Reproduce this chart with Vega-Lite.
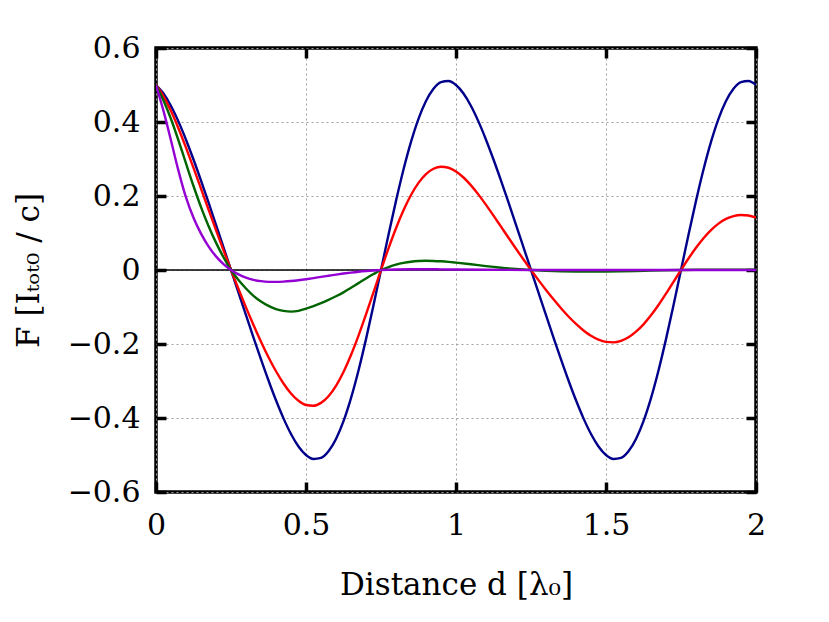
{
  "$schema": "https://vega.github.io/schema/vega-lite/v6.json",
  "width": 600,
  "height": 444,
  "autosize": {"type": "none"},
  "padding": {"left": 156, "top": 48, "right": 73, "bottom": 130},
  "background": "white",
  "config": {
    "view": {"stroke": "black", "strokeWidth": 3.5},
    "font": "DejaVu Serif"
  },
  "datasets": {
    "curves": [
      {"d":0,"F":0.5,"s":"A"},{"d":0.025,"F":0.4769,"s":"A"},{"d":0.05,"F":0.4432,"s":"A"},{"d":0.075,"F":0.401,"s":"A"},{"d":0.1,"F":0.3522,"s":"A"},{"d":0.125,"F":0.2986,"s":"A"},{"d":0.15,"F":0.2416,"s":"A"},{"d":0.175,"F":0.1825,"s":"A"},{"d":0.2,"F":0.1222,"s":"A"},{"d":0.225,"F":0.0612,"s":"A"},{"d":0.25,"F":0,"s":"A"},{"d":0.275,"F":-0.0612,"s":"A"},{"d":0.3,"F":-0.1222,"s":"A"},{"d":0.325,"F":-0.1825,"s":"A"},{"d":0.35,"F":-0.2416,"s":"A"},{"d":0.375,"F":-0.2986,"s":"A"},{"d":0.4,"F":-0.3522,"s":"A"},{"d":0.425,"F":-0.401,"s":"A"},{"d":0.45,"F":-0.4432,"s":"A"},{"d":0.475,"F":-0.4769,"s":"A"},{"d":0.5,"F":-0.5,"s":"A"},{"d":0.525,"F":-0.5108,"s":"A"},{"d":0.55,"F":-0.5079,"s":"A"},{"d":0.575,"F":-0.49,"s":"A"},{"d":0.6,"F":-0.4568,"s":"A"},{"d":0.625,"F":-0.4086,"s":"A"},{"d":0.65,"F":-0.3462,"s":"A"},{"d":0.675,"F":-0.2715,"s":"A"},{"d":0.7,"F":-0.1868,"s":"A"},{"d":0.725,"F":-0.0952,"s":"A"},{"d":0.75,"F":0,"s":"A"},{"d":0.775,"F":0.0952,"s":"A"},{"d":0.8,"F":0.1868,"s":"A"},{"d":0.825,"F":0.2715,"s":"A"},{"d":0.85,"F":0.3462,"s":"A"},{"d":0.875,"F":0.4086,"s":"A"},{"d":0.9,"F":0.4568,"s":"A"},{"d":0.925,"F":0.49,"s":"A"},{"d":0.95,"F":0.5079,"s":"A"},{"d":0.975,"F":0.5108,"s":"A"},
      {"d":1,"F":0.5,"s":"A"},{"d":1.025,"F":0.4769,"s":"A"},{"d":1.05,"F":0.4432,"s":"A"},{"d":1.075,"F":0.401,"s":"A"},{"d":1.1,"F":0.3522,"s":"A"},{"d":1.125,"F":0.2986,"s":"A"},{"d":1.15,"F":0.2416,"s":"A"},{"d":1.175,"F":0.1825,"s":"A"},{"d":1.2,"F":0.1222,"s":"A"},{"d":1.225,"F":0.0612,"s":"A"},{"d":1.25,"F":0,"s":"A"},{"d":1.275,"F":-0.0612,"s":"A"},{"d":1.3,"F":-0.1222,"s":"A"},{"d":1.325,"F":-0.1825,"s":"A"},{"d":1.35,"F":-0.2416,"s":"A"},{"d":1.375,"F":-0.2986,"s":"A"},{"d":1.4,"F":-0.3522,"s":"A"},{"d":1.425,"F":-0.401,"s":"A"},{"d":1.45,"F":-0.4432,"s":"A"},{"d":1.475,"F":-0.4769,"s":"A"},{"d":1.5,"F":-0.5,"s":"A"},{"d":1.525,"F":-0.5108,"s":"A"},{"d":1.55,"F":-0.5079,"s":"A"},{"d":1.575,"F":-0.49,"s":"A"},{"d":1.6,"F":-0.4568,"s":"A"},{"d":1.625,"F":-0.4086,"s":"A"},{"d":1.65,"F":-0.3462,"s":"A"},{"d":1.675,"F":-0.2715,"s":"A"},{"d":1.7,"F":-0.1868,"s":"A"},{"d":1.725,"F":-0.0952,"s":"A"},{"d":1.75,"F":0,"s":"A"},{"d":1.775,"F":0.0952,"s":"A"},{"d":1.8,"F":0.1868,"s":"A"},{"d":1.825,"F":0.2715,"s":"A"},{"d":1.85,"F":0.3462,"s":"A"},{"d":1.875,"F":0.4086,"s":"A"},{"d":1.9,"F":0.4568,"s":"A"},{"d":1.925,"F":0.49,"s":"A"},{"d":1.95,"F":0.5079,"s":"A"},{"d":1.975,"F":0.5108,"s":"A"},{"d":2,"F":0.5,"s":"A"},

      {"d":0,"F":0.5,"s":"B"},{"d":0.025,"F":0.4694,"s":"B"},{"d":0.05,"F":0.4295,"s":"B"},{"d":0.075,"F":0.3825,"s":"B"},{"d":0.1,"F":0.3307,"s":"B"},{"d":0.125,"F":0.2759,"s":"B"},{"d":0.15,"F":0.2198,"s":"B"},{"d":0.175,"F":0.1635,"s":"B"},{"d":0.2,"F":0.1077,"s":"B"},{"d":0.225,"F":0.0531,"s":"B"},{"d":0.25,"F":0,"s":"B"},{"d":0.275,"F":-0.0515,"s":"B"},{"d":0.3,"F":-0.1011,"s":"B"},{"d":0.325,"F":-0.1487,"s":"B"},{"d":0.35,"F":-0.1938,"s":"B"},{"d":0.375,"F":-0.2357,"s":"B"},{"d":0.4,"F":-0.2737,"s":"B"},{"d":0.425,"F":-0.3068,"s":"B"},{"d":0.45,"F":-0.3338,"s":"B"},{"d":0.475,"F":-0.3535,"s":"B"},{"d":0.5,"F":-0.3649,"s":"B"},{"d":0.525,"F":-0.367,"s":"B"},{"d":0.55,"F":-0.3591,"s":"B"},{"d":0.575,"F":-0.3411,"s":"B"},{"d":0.6,"F":-0.313,"s":"B"},{"d":0.625,"F":-0.2756,"s":"B"},{"d":0.65,"F":-0.2299,"s":"B"},{"d":0.675,"F":-0.1775,"s":"B"},{"d":0.7,"F":-0.1202,"s":"B"},{"d":0.725,"F":-0.0603,"s":"B"},{"d":0.75,"F":0,"s":"B"},{"d":0.775,"F":0.0584,"s":"B"},{"d":0.8,"F":0.1129,"s":"B"},{"d":0.825,"F":0.1614,"s":"B"},{"d":0.85,"F":0.2027,"s":"B"},{"d":0.875,"F":0.2354,"s":"B"},{"d":0.9,"F":0.2591,"s":"B"},{"d":0.925,"F":0.2736,"s":"B"},{"d":0.95,"F":0.2791,"s":"B"},{"d":0.975,"F":0.2764,"s":"B"},
      {"d":1,"F":0.2663,"s":"B"},{"d":1.025,"F":0.25,"s":"B"},{"d":1.05,"F":0.2287,"s":"B"},{"d":1.075,"F":0.2037,"s":"B"},{"d":1.1,"F":0.1761,"s":"B"},{"d":1.125,"F":0.147,"s":"B"},{"d":1.15,"F":0.1171,"s":"B"},{"d":1.175,"F":0.0871,"s":"B"},{"d":1.2,"F":0.0574,"s":"B"},{"d":1.225,"F":0.0283,"s":"B"},{"d":1.25,"F":0,"s":"B"},{"d":1.275,"F":-0.0274,"s":"B"},{"d":1.3,"F":-0.0539,"s":"B"},{"d":1.325,"F":-0.0792,"s":"B"},{"d":1.35,"F":-0.1032,"s":"B"},{"d":1.375,"F":-0.1256,"s":"B"},{"d":1.4,"F":-0.1458,"s":"B"},{"d":1.425,"F":-0.1634,"s":"B"},{"d":1.45,"F":-0.1778,"s":"B"},{"d":1.475,"F":-0.1883,"s":"B"},{"d":1.5,"F":-0.1943,"s":"B"},{"d":1.525,"F":-0.1955,"s":"B"},{"d":1.55,"F":-0.1913,"s":"B"},{"d":1.575,"F":-0.1817,"s":"B"},{"d":1.6,"F":-0.1667,"s":"B"},{"d":1.625,"F":-0.1468,"s":"B"},{"d":1.65,"F":-0.1224,"s":"B"},{"d":1.675,"F":-0.0945,"s":"B"},{"d":1.7,"F":-0.064,"s":"B"},{"d":1.725,"F":-0.0321,"s":"B"},{"d":1.75,"F":0,"s":"B"},{"d":1.775,"F":0.0311,"s":"B"},{"d":1.8,"F":0.0601,"s":"B"},{"d":1.825,"F":0.086,"s":"B"},{"d":1.85,"F":0.1079,"s":"B"},{"d":1.875,"F":0.1254,"s":"B"},{"d":1.9,"F":0.138,"s":"B"},{"d":1.925,"F":0.1457,"s":"B"},{"d":1.95,"F":0.1487,"s":"B"},{"d":1.975,"F":0.1472,"s":"B"},{"d":2,"F":0.1418,"s":"B"},

      {"d":0,"F":0.5,"s":"C"},{"d":0.025,"F":0.458,"s":"C"},{"d":0.05,"F":0.408,"s":"C"},{"d":0.075,"F":0.35,"s":"C"},{"d":0.1,"F":0.288,"s":"C"},{"d":0.125,"F":0.227,"s":"C"},{"d":0.15,"F":0.17,"s":"C"},{"d":0.175,"F":0.119,"s":"C"},{"d":0.2,"F":0.074,"s":"C"},{"d":0.225,"F":0.0345,"s":"C"},{"d":0.25,"F":0,"s":"C"},{"d":0.275,"F":-0.027,"s":"C"},{"d":0.3,"F":-0.05,"s":"C"},{"d":0.325,"F":-0.07,"s":"C"},{"d":0.35,"F":-0.085,"s":"C"},{"d":0.375,"F":-0.097,"s":"C"},{"d":0.4,"F":-0.1055,"s":"C"},{"d":0.425,"F":-0.1105,"s":"C"},{"d":0.45,"F":-0.1125,"s":"C"},{"d":0.475,"F":-0.1105,"s":"C"},{"d":0.5,"F":-0.1045,"s":"C"},{"d":0.525,"F":-0.0975,"s":"C"},{"d":0.55,"F":-0.0895,"s":"C"},{"d":0.575,"F":-0.0805,"s":"C"},{"d":0.6,"F":-0.071,"s":"C"},{"d":0.625,"F":-0.0605,"s":"C"},{"d":0.65,"F":-0.048,"s":"C"},{"d":0.675,"F":-0.0355,"s":"C"},{"d":0.7,"F":-0.023,"s":"C"},{"d":0.725,"F":-0.011,"s":"C"},{"d":0.75,"F":0,"s":"C"},{"d":0.775,"F":0.008,"s":"C"},{"d":0.8,"F":0.0145,"s":"C"},{"d":0.825,"F":0.0192,"s":"C"},{"d":0.85,"F":0.0224,"s":"C"},{"d":0.875,"F":0.0242,"s":"C"},{"d":0.9,"F":0.0248,"s":"C"},{"d":0.925,"F":0.0245,"s":"C"},{"d":0.95,"F":0.0235,"s":"C"},{"d":0.975,"F":0.022,"s":"C"},{"d":1,"F":0.02,"s":"C"},{"d":1.05,"F":0.0155,"s":"C"},{"d":1.1,"F":0.0105,"s":"C"},{"d":1.15,"F":0.0062,"s":"C"},{"d":1.2,"F":0.0027,"s":"C"},{"d":1.25,"F":0,"s":"C"},{"d":1.3,"F":-0.002,"s":"C"},{"d":1.35,"F":-0.0033,"s":"C"},{"d":1.4,"F":-0.004,"s":"C"},{"d":1.45,"F":-0.0043,"s":"C"},{"d":1.5,"F":-0.0041,"s":"C"},{"d":1.55,"F":-0.0035,"s":"C"},{"d":1.6,"F":-0.0027,"s":"C"},{"d":1.65,"F":-0.0017,"s":"C"},{"d":1.7,"F":-0.0008,"s":"C"},{"d":1.75,"F":0,"s":"C"},{"d":1.8,"F":0.0006,"s":"C"},{"d":1.85,"F":0.0009,"s":"C"},{"d":1.9,"F":0.001,"s":"C"},{"d":1.95,"F":0.001,"s":"C"},{"d":2,"F":0.0008,"s":"C"},

      {"d":0,"F":0.5,"s":"D"},{"d":0.025,"F":0.43,"s":"D"},{"d":0.05,"F":0.35,"s":"D"},{"d":0.075,"F":0.268,"s":"D"},{"d":0.1,"F":0.196,"s":"D"},{"d":0.125,"F":0.141,"s":"D"},{"d":0.15,"F":0.0982,"s":"D"},{"d":0.175,"F":0.0639,"s":"D"},{"d":0.2,"F":0.0368,"s":"D"},{"d":0.225,"F":0.0159,"s":"D"},{"d":0.25,"F":0,"s":"D"},{"d":0.275,"F":-0.0118,"s":"D"},{"d":0.3,"F":-0.0205,"s":"D"},{"d":0.325,"F":-0.0265,"s":"D"},{"d":0.35,"F":-0.0302,"s":"D"},{"d":0.375,"F":-0.032,"s":"D"},{"d":0.4,"F":-0.0322,"s":"D"},{"d":0.425,"F":-0.0314,"s":"D"},{"d":0.45,"F":-0.0298,"s":"D"},{"d":0.475,"F":-0.0276,"s":"D"},{"d":0.5,"F":-0.0249,"s":"D"},{"d":0.525,"F":-0.0219,"s":"D"},{"d":0.55,"F":-0.0187,"s":"D"},{"d":0.575,"F":-0.0156,"s":"D"},{"d":0.6,"F":-0.0125,"s":"D"},{"d":0.625,"F":-0.0096,"s":"D"},{"d":0.65,"F":-0.007,"s":"D"},{"d":0.675,"F":-0.0047,"s":"D"},{"d":0.7,"F":-0.0028,"s":"D"},{"d":0.725,"F":-0.0012,"s":"D"},{"d":0.75,"F":0,"s":"D"},{"d":0.8,"F":0.0015,"s":"D"},{"d":0.85,"F":0.0021,"s":"D"},{"d":0.9,"F":0.0021,"s":"D"},{"d":0.95,"F":0.0017,"s":"D"},{"d":1,"F":0.0012,"s":"D"},{"d":1.1,"F":0.0005,"s":"D"},{"d":1.25,"F":0,"s":"D"},{"d":1.5,"F":-0.0001,"s":"D"},{"d":1.75,"F":0,"s":"D"},{"d":2,"F":0,"s":"D"}
    ]
  },
  "resolve": {"axis": {"x": "independent", "y": "independent"}},
  "layer": [
    {
      "data": {"name": "curves"},
      "mark": {"type": "line", "opacity": 0},
      "encoding": {
        "x": {"field": "d", "type": "quantitative", "scale": {"domain": [0, 2], "nice": false},
          "axis": {"orient": "bottom", "values": [0, 0.5, 1, 1.5, 2], "format": "~g", "grid": true, "gridColor": "#a0a0a0", "gridDash": [2, 3], "gridWidth": 1, "domain": false, "tickSize": -10, "tickWidth": 3.5, "tickColor": "black", "labelFont": "DejaVu Serif", "labelFontSize": 30, "labelColor": "black", "labelFlush": false, "labelOverlap": false, "labelPadding": 28, "title": "Distance d [λ₀]", "titleFont": "DejaVu Serif", "titleFontSize": 31, "titleFontWeight": "normal", "titleColor": "black", "titlePadding": 30}},
        "y": {"field": "F", "type": "quantitative", "scale": {"domain": [-0.6, 0.6], "nice": false},
          "axis": {"orient": "left", "values": [-0.6, -0.4, -0.2, 0, 0.2, 0.4, 0.6], "format": ".1~f", "grid": true, "gridColor": "#a0a0a0", "gridDash": [2, 3], "gridWidth": 1, "domain": false, "tickSize": -10, "tickWidth": 3.5, "tickColor": "black", "labelFont": "DejaVu Serif", "labelFontSize": 30, "labelColor": "black", "labelFlush": false, "labelOverlap": false, "labelPadding": 26, "title": "F [Iₜₒₜ₀ / c]", "titleFont": "DejaVu Serif", "titleFontSize": 31, "titleFontWeight": "normal", "titleColor": "black", "titlePadding": 22}}
      }
    },
    {
      "data": {"values": [{"d": 0, "F": 0}]},
      "mark": {"type": "point", "opacity": 0},
      "encoding": {
        "x": {"field": "d", "type": "quantitative", "scale": {"domain": [0, 2], "nice": false},
          "axis": {"orient": "top", "values": [0, 0.5, 1, 1.5, 2], "labels": false, "grid": false, "domain": false, "tickSize": -10, "tickWidth": 3.5, "tickColor": "black", "title": null}},
        "y": {"field": "F", "type": "quantitative", "scale": {"domain": [-0.6, 0.6], "nice": false},
          "axis": {"orient": "right", "values": [-0.6, -0.4, -0.2, 0, 0.2, 0.4, 0.6], "labels": false, "grid": false, "domain": false, "tickSize": -10, "tickWidth": 3.5, "tickColor": "black", "title": null}}
      }
    },
    {
      "data": {"values": [{}]},
      "mark": {"type": "rule", "color": "black", "strokeWidth": 1.5},
      "encoding": {"y": {"datum": 0, "type": "quantitative", "axis": null}}
    },
    {
      "data": {"name": "curves"},
      "mark": {"type": "line", "strokeWidth": 2.4, "interpolate": "monotone", "clip": true},
      "encoding": {
        "x": {"field": "d", "type": "quantitative", "axis": null},
        "y": {"field": "F", "type": "quantitative", "axis": null},
        "color": {"field": "s", "type": "nominal", "legend": null,
          "scale": {"domain": ["A", "B", "C", "D"], "range": ["#00008b", "#ff0000", "#006400", "#9400d3"]}}
      }
    }
  ]
}
